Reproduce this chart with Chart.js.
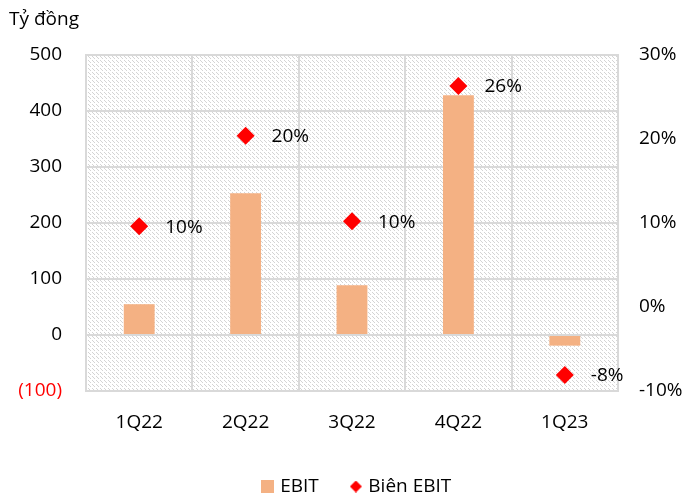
<!DOCTYPE html>
<html>
<head>
<meta charset="utf-8">
<script src="https://cdn.jsdelivr.net/npm/chart.js@4.4.1/dist/chart.umd.min.js"></script>
<style>
  html, body { margin: 0; padding: 0; background: #fff; }
  #wrap { width: 688px; height: 500px; }
</style>
</head>
<body>
<div id="wrap"><canvas id="ebitChart" width="688" height="500"></canvas></div>
<script>
// Quarterly EBIT (bn VND) and EBIT margin (%)
const quarters = ['1Q22', '2Q22', '3Q22', '4Q22', '1Q23'];
const ebit = [55, 253, 89, 428, -19];
const ebitMargin = [9.6, 20.4, 10.2, 26.3, -8.1];
const leftTicks = [-100, 0, 100, 200, 300, 400, 500];
const rightTicks = [-10, 0, 10, 20, 30];

const FONT = "'Open Sans', 'Noto Sans', sans-serif";
const GRID = '#d9d9d9';
const BAR_COLOR = '#f4b183';
const MARK_COLOR = '#ff0000';

// Diagonal dashed hatch used as plot background
function makeHatch() {
    const c = document.createElement('canvas');
    c.width = 4; c.height = 4;
    const g = c.getContext('2d');
    g.fillStyle = '#fff';
    g.fillRect(0, 0, 4, 4);
    g.fillStyle = '#d4d4d4';
    g.fillRect(0, 0, 1, 1);
    g.fillRect(1, 1, 1, 1);
    g.fillRect(2, 2, 1, 1);
    return c;
}

// Small legend icons
function makeBoxIcon() {
    const c = document.createElement('canvas');
    c.width = 13; c.height = 13;
    const g = c.getContext('2d');
    g.fillStyle = BAR_COLOR;
    g.fillRect(0, 0, 13, 13);
    return c;
}
function makeDiamondIcon() {
    const c = document.createElement('canvas');
    c.width = 12; c.height = 12;
    const g = c.getContext('2d');
    g.fillStyle = MARK_COLOR;
    g.beginPath();
    g.moveTo(6, 0); g.lineTo(12, 6); g.lineTo(6, 12); g.lineTo(0, 6);
    g.closePath();
    g.fill();
    return c;
}
const boxIcon = makeBoxIcon();
const diamondIcon = makeDiamondIcon();

const ctx = document.getElementById('ebitChart').getContext('2d');
const hatch = ctx.createPattern(makeHatch(), 'repeat');

// Paint hatch behind the plot, then unit title and margin labels on top
const decorPlugin = {
    id: 'decor',
    afterLayout(chart) {
        // nudge the legend a little right of the canvas centre
        if (chart.legend) {
            chart.legend.left += 14;
            chart.legend.right += 14;
        }
    },
    beforeDraw(chart) {
        const a = chart.chartArea;
        const c = chart.ctx;
        c.save();
        c.fillStyle = hatch;
        c.fillRect(a.left, a.top, a.right - a.left, a.bottom - a.top);
        c.restore();
    },
    afterDatasetsDraw(chart) {
        const c = chart.ctx;
        c.save();
        c.font = '19px ' + FONT;
        c.fillStyle = '#000';
        c.textBaseline = 'middle';
        c.textAlign = 'left';
        c.fillText('Tỷ đồng', 9, 20);
        const meta = chart.getDatasetMeta(1);
        meta.data.forEach((pt, i) => {
            c.fillText(Math.round(ebitMargin[i]) + '%', pt.x + 26, pt.y + 1);
        });
        c.restore();
    }
};

new Chart(ctx, {
    data: {
        labels: quarters,
        datasets: [
            {
                type: 'bar',
                label: 'EBIT',
                data: ebit,
                backgroundColor: BAR_COLOR,
                borderWidth: 0,
                barPercentage: 0.29,
                categoryPercentage: 1,
                yAxisID: 'y',
                order: 1
            },
            {
                type: 'line',
                label: 'Biên EBIT',
                data: ebitMargin,
                showLine: false,
                pointStyle: 'rectRot',
                pointRadius: 9,
                pointHoverRadius: 9,
                pointBackgroundColor: MARK_COLOR,
                pointBorderWidth: 0,
                yAxisID: 'y1',
                order: 0
            }
        ]
    },
    options: {
        responsive: false,
        animation: false,
        layout: { padding: { left: 0, right: 0, top: 55, bottom: -6 } },
        plugins: {
            tooltip: { enabled: false },
            legend: {
                position: 'bottom',
                labels: {
                    usePointStyle: true,
                    boxWidth: 6,
                    padding: 34,
                    color: '#000',
                    font: { family: FONT, size: 19 },
                    generateLabels(chart) {
                        const items = Chart.defaults.plugins.legend.labels.generateLabels(chart);
                        items.sort((a, b) => a.datasetIndex - b.datasetIndex);
                        items.forEach(it => {
                            it.pointStyle = it.datasetIndex === 0 ? boxIcon : diamondIcon;
                        });
                        return items;
                    }
                }
            }
        },
        scales: {
            x: {
                grid: { color: GRID, lineWidth: 2, drawTicks: false, offset: true },
                border: { display: false },
                ticks: { color: '#000', padding: 20, font: { family: FONT, size: 19 } },
                afterFit(scale) { scale.height = 52; }
            },
            y: {
                position: 'left',
                min: leftTicks[0],
                max: leftTicks[leftTicks.length - 1],
                afterBuildTicks(scale) { scale.ticks = leftTicks.map(v => ({ value: v })); },
                grid: { color: GRID, lineWidth: 2, drawTicks: false },
                border: { color: GRID, width: 2 },
                ticks: {
                    padding: 24,
                    font: { family: FONT, size: 19 },
                    color: c => (c.tick && c.tick.value < 0 ? '#ff0000' : '#000'),
                    callback: v => (v < 0 ? '(' + (-v) + ')' : v)
                },
                afterFit(scale) { scale.width = 86; }
            },
            y1: {
                position: 'right',
                min: rightTicks[0],
                max: rightTicks[rightTicks.length - 1],
                afterBuildTicks(scale) { scale.ticks = rightTicks.map(v => ({ value: v })); },
                grid: { display: false, drawTicks: false },
                border: { color: GRID, width: 2 },
                ticks: {
                    padding: 21,
                    color: '#000',
                    font: { family: FONT, size: 19 },
                    callback: v => v + '%'
                },
                afterFit(scale) { scale.width = 70; }
            }
        }
    },
    plugins: [decorPlugin]
});
</script>
</body>
</html>
